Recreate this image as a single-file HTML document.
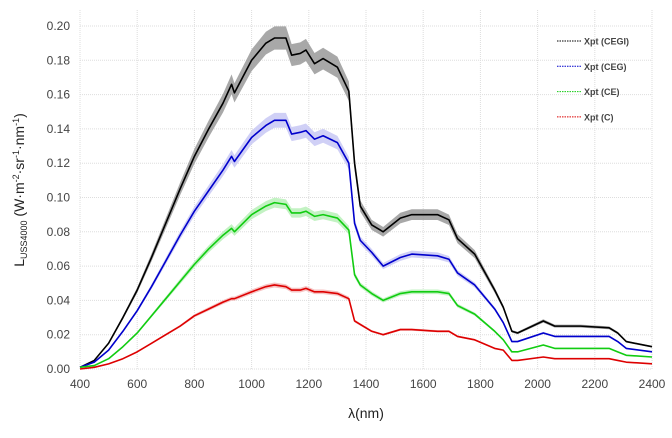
<!DOCTYPE html>
<html><head><meta charset="utf-8"><style>
body{margin:0;background:#fff;}
svg{display:block;font-family:"Liberation Sans",sans-serif;}
</style></head><body>
<svg id="chart" width="672" height="438"></svg>
<script>
const wavelengths=[400,450,500,550,600,650,700,750,800,850,900,930,940,1000,1050,1080,1120,1140,1170,1190,1220,1250,1300,1340,1360,1380,1420,1460,1520,1560,1650,1690,1720,1780,1850,1880,1910,1930,2020,2060,2150,2250,2280,2310,2400];
const valsCEGI=[0.001,0.005,0.015,0.030,0.046,0.065,0.085,0.105,0.124,0.140,0.155,0.166,0.161,0.180,0.190,0.193,0.193,0.183,0.184,0.186,0.178,0.181,0.176,0.162,0.12,0.095,0.084,0.080,0.088,0.090,0.090,0.087,0.076,0.067,0.046,0.036,0.022,0.021,0.028,0.025,0.025,0.024,0.021,0.016,0.013];
const valsCEG=[0.001,0.004,0.011,0.022,0.034,0.048,0.063,0.078,0.092,0.104,0.116,0.124,0.121,0.135,0.142,0.145,0.145,0.137,0.138,0.139,0.134,0.136,0.132,0.12,0.085,0.075,0.068,0.060,0.065,0.067,0.066,0.064,0.056,0.049,0.035,0.027,0.016,0.016,0.021,0.019,0.019,0.019,0.016,0.012,0.010];
const valsCE=[0.001,0.002,0.006,0.013,0.021,0.031,0.041,0.051,0.061,0.070,0.078,0.082,0.080,0.090,0.095,0.097,0.096,0.091,0.091,0.092,0.089,0.090,0.088,0.081,0.055,0.049,0.044,0.040,0.044,0.045,0.045,0.044,0.037,0.032,0.022,0.017,0.010,0.010,0.014,0.012,0.012,0.012,0.010,0.008,0.007];
const valsC=[0.000,0.001,0.003,0.006,0.010,0.015,0.020,0.025,0.031,0.035,0.039,0.041,0.041,0.045,0.048,0.049,0.048,0.046,0.046,0.047,0.045,0.045,0.044,0.041,0.028,0.026,0.022,0.020,0.023,0.023,0.022,0.022,0.019,0.017,0.012,0.011,0.005,0.005,0.007,0.006,0.006,0.006,0.005,0.004,0.003];
const xTicks=[400,600,800,1000,1200,1400,1600,1800,2000,2200,2400];
const yTicks=[0,0.02,0.04,0.06,0.08,0.10,0.12,0.14,0.16,0.18,0.20];
const seriesNames=["Xpt (CEGI)","Xpt (CEG)","Xpt (CE)","Xpt (C)"];

const NS="http://www.w3.org/2000/svg";
const svg=document.getElementById('chart');
const X0=80,X1=652,Y0=369,Y1=26;
const xs=v=>X0+(v-400)/2000*(X1-X0);
const ys=v=>Y0-v/0.2*(Y0-Y1);
function mk(tag,attrs,parent){const e=document.createElementNS(NS,tag);for(const k in attrs)e.setAttribute(k,attrs[k]);(parent||svg).appendChild(e);return e;}

const grid=mk('g',{});


xTicks.forEach(t=>{
  const l=mk('line',{x1:xs(t),x2:xs(t),y1:10,y2:Y0,stroke:'#ddd','stroke-dasharray':'1,1'},grid);
  
  
  const tx=mk('text',{x:xs(t),y:388,'text-anchor':'middle','font-size':12,fill:'#444'});
  
  
  tx.textContent=t;
});
yTicks.forEach(t=>{
  const l=mk('line',{x1:X0,x2:X1,y1:ys(t),y2:ys(t),stroke:'#ddd','stroke-dasharray':'1,1'},grid);
  
  
  const tx=mk('text',{x:70,y:ys(t)+4,'text-anchor':'end','font-size':12,fill:'#444'});
  
  
  tx.textContent=t.toFixed(2);
});

const series=[
 {vals:valsCEGI,color:'#000',band:'#999',w:0.035},
 {vals:valsCEG,color:'#00c',band:'#c8c8f4',w:0.03},
 {vals:valsCE,color:'#1c1',band:'#b8f0b8',w:0.03},
 {vals:valsC,color:'#d00',band:'#f4b8b8',w:0.03}
];
series.forEach((s,i)=>{
  const up=wavelengths.map((w,j)=>xs(w)+','+ys(s.vals[j]*(1+s.w)));
  const dn=wavelengths.map((w,j)=>xs(w)+','+ys(s.vals[j]*(1-s.w))).reverse();
  const b=mk('polygon',{points:up.concat(dn).join(' '),fill:s.band,opacity:0.85});
  
  
  const p=mk('polyline',{points:wavelengths.map((w,j)=>xs(w)+','+ys(s.vals[j])).join(' '),fill:'none',stroke:s.color,'stroke-width':1.6,'stroke-linejoin':'round'});
  
  
  const ly=41+i*25.3;
  const ll=mk('line',{x1:557,x2:581,y1:ly,y2:ly,stroke:s.color,'stroke-dasharray':'1.5,1'});
  
  
  const lt=mk('text',{x:584,y:ly+3.5,'font-size':9,'font-weight':'bold',fill:'#444'});
  
  
  lt.textContent=seriesNames[i];
});

const xt=mk('text',{x:366,y:418,'text-anchor':'middle','font-size':14,fill:'#222'});


xt.textContent='λ(nm)';
const yt=mk('text',{transform:'translate(24,190) rotate(-90)','text-anchor':'middle','font-size':14,fill:'#222'});


yt.innerHTML='L<tspan font-size="9" dy="3">USS4000</tspan><tspan dy="-3"> (W·m</tspan><tspan font-size="9" dy="-5">-2</tspan><tspan dy="5">·sr</tspan><tspan font-size="9" dy="-5">-1</tspan><tspan dy="5">·nm</tspan><tspan font-size="9" dy="-5">-1</tspan><tspan dy="5">)</tspan>';
</script>
</body></html>
